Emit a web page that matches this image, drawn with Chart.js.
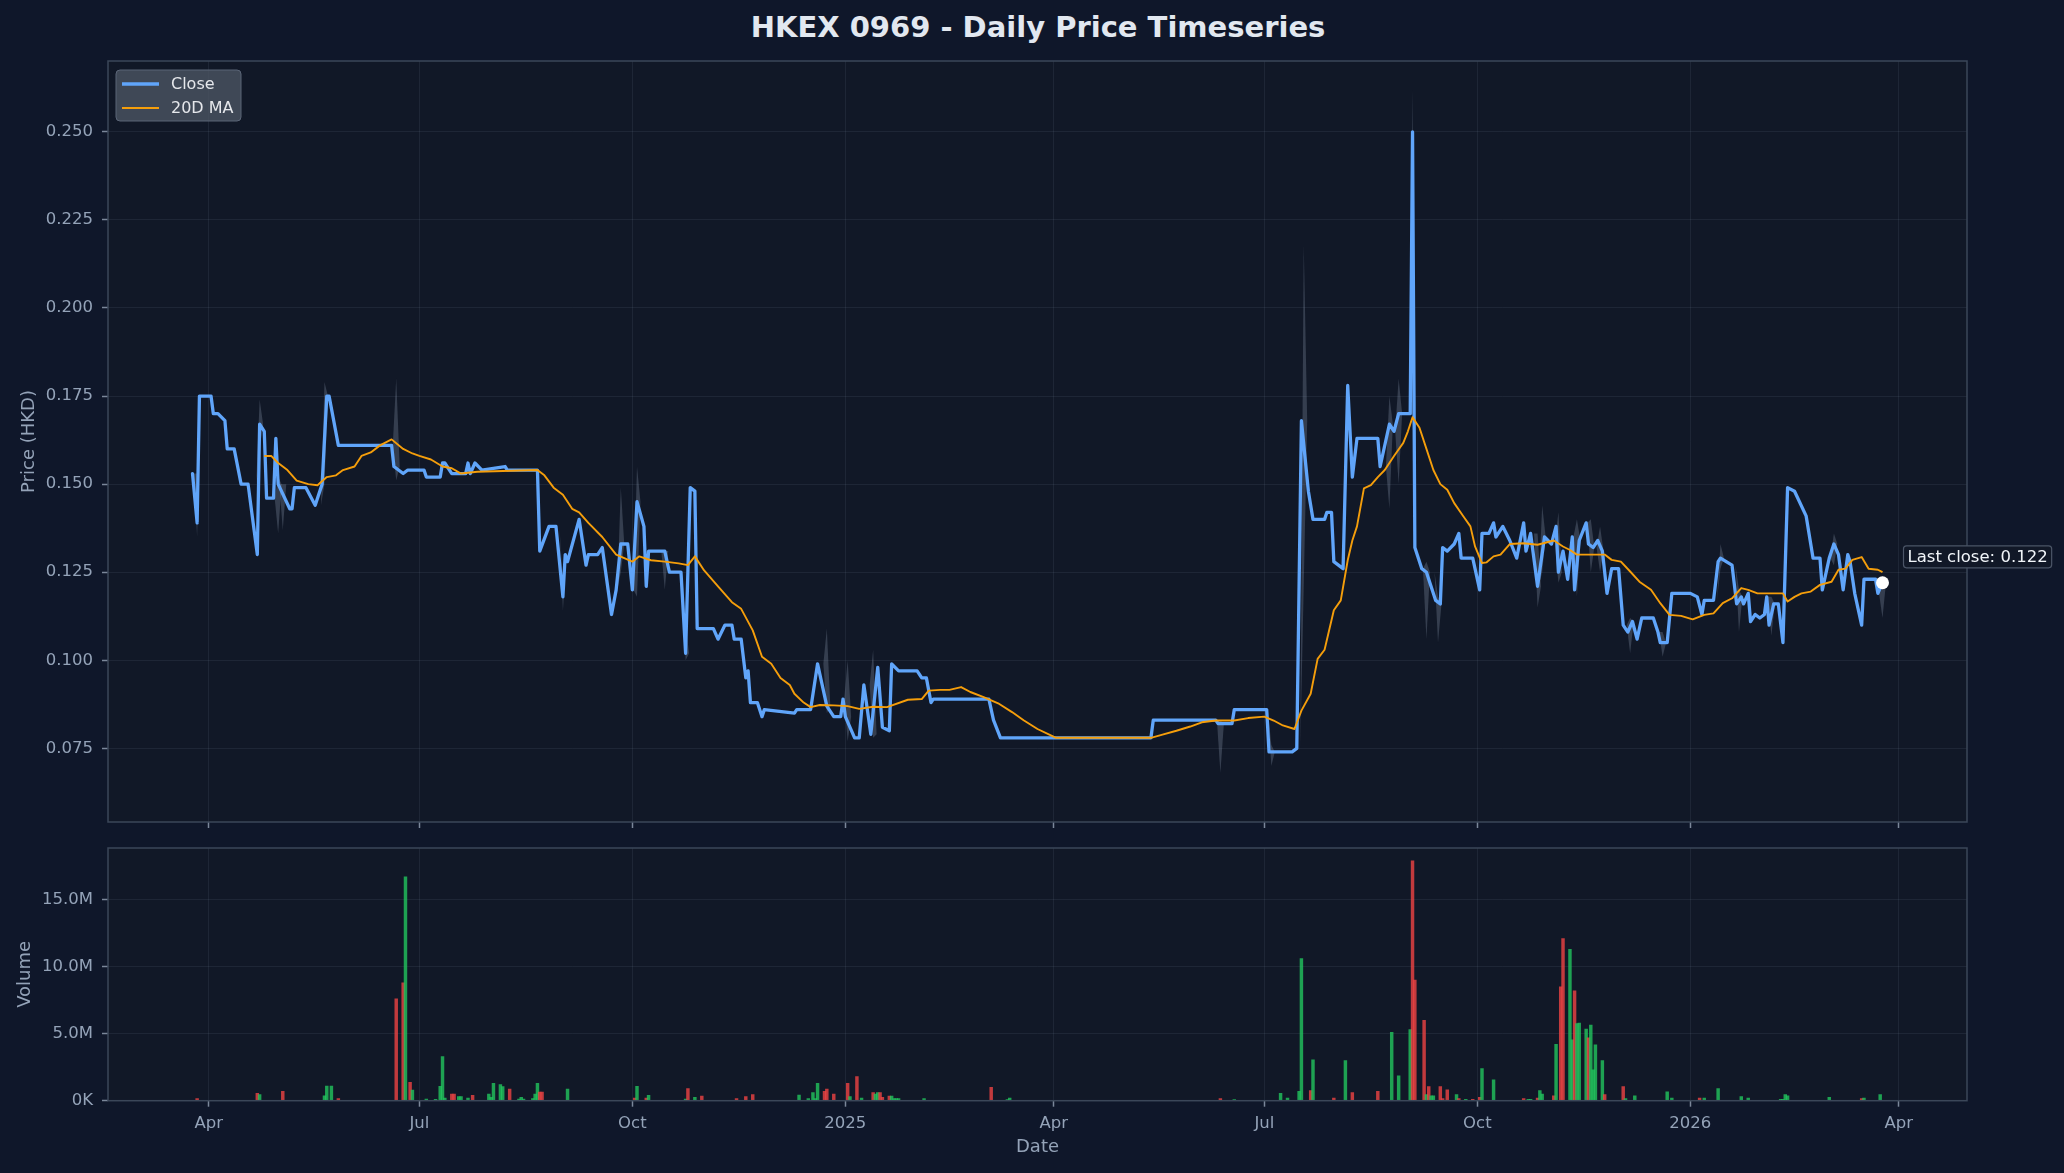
<!DOCTYPE html>
<html lang="en">
<head>
<meta charset="UTF-8">
<title>HKEX 0969 - Daily Price Timeseries</title>
<script src="https://cdn.jsdelivr.net/npm/chart.js"></script>
<style>
  body { margin: 0; background: #0f172a; }
  #wrap { position: relative; width: 2064px; height: 1173px; font-family: 'DejaVu Sans', sans-serif; }
  #title { position: absolute; left: 6px; top: 9px; width: 2064px; text-align: center; color: #e2e8f0;
           font-weight: bold; font-size: 29px; line-height: 36px; }
  canvas { position: absolute; left: 0; }
</style>
</head>
<body>
<div id="wrap">
  <div id="title">HKEX 0969 - Daily Price Timeseries</div>
  <canvas id="priceChart" width="2064" height="844" style="top:0"></canvas>
  <canvas id="volumeChart" width="2064" height="351" style="top:822px"></canvas>
</div>
<script>
// values
const closeDates = [
  '2024-03-25','2024-03-27','2024-03-28','2024-04-02','2024-04-03','2024-04-05','2024-04-08','2024-04-09','2024-04-12','2024-04-15',
  '2024-04-18','2024-04-22','2024-04-23','2024-04-25','2024-04-26','2024-04-29','2024-04-30','2024-05-01','2024-05-06','2024-05-07',
  '2024-05-08','2024-05-13','2024-05-17','2024-05-20','2024-05-22','2024-05-23','2024-05-27','2024-06-19','2024-06-20','2024-06-24',
  '2024-06-26','2024-07-03','2024-07-04','2024-07-10','2024-07-11','2024-07-12','2024-07-15','2024-07-21','2024-07-22','2024-07-23',
  '2024-07-25','2024-07-28','2024-08-07','2024-08-08','2024-08-21','2024-08-22','2024-08-26','2024-08-29','2024-09-01','2024-09-02',
  '2024-09-03','2024-09-08','2024-09-11','2024-09-12','2024-09-16','2024-09-18','2024-09-22','2024-09-24','2024-09-26','2024-09-29',
  '2024-10-01','2024-10-03','2024-10-06','2024-10-07','2024-10-08','2024-10-15','2024-10-17','2024-10-22','2024-10-24','2024-10-26',
  '2024-10-28','2024-10-29','2024-11-05','2024-11-07','2024-11-10','2024-11-13','2024-11-14','2024-11-17','2024-11-19','2024-11-20',
  '2024-11-21','2024-11-24','2024-11-26','2024-11-27','2024-12-10','2024-12-11','2024-12-17','2024-12-20','2024-12-24','2024-12-27',
  '2024-12-30','2024-12-31','2025-01-01','2025-01-05','2025-01-07','2025-01-09','2025-01-12','2025-01-15','2025-01-17','2025-01-20',
  '2025-01-21','2025-01-24','2025-02-01','2025-02-03','2025-02-05','2025-02-07','2025-02-08','2025-03-04','2025-03-06','2025-03-09',
  '2025-05-13','2025-05-14','2025-06-10','2025-06-11','2025-06-17','2025-06-18','2025-07-02','2025-07-03','2025-07-13','2025-07-15',
  '2025-07-17','2025-07-20','2025-07-22','2025-07-27','2025-07-28','2025-07-30','2025-07-31','2025-08-04','2025-08-06','2025-08-08',
  '2025-08-10','2025-08-19','2025-08-20','2025-08-24','2025-08-26','2025-08-28','2025-09-02','2025-09-03','2025-09-04','2025-09-07',
  '2025-09-09','2025-09-13','2025-09-15','2025-09-16','2025-09-18','2025-09-21','2025-09-23','2025-09-24','2025-09-29','2025-10-02',
  '2025-10-03','2025-10-06','2025-10-08','2025-10-09','2025-10-12','2025-10-15','2025-10-18','2025-10-21','2025-10-22','2025-10-24',
  '2025-10-27','2025-10-30','2025-11-02','2025-11-04','2025-11-05','2025-11-07','2025-11-09','2025-11-11','2025-11-12','2025-11-14',
  '2025-11-17','2025-11-18','2025-11-20','2025-11-22','2025-11-24','2025-11-26','2025-11-28','2025-12-01','2025-12-03','2025-12-05',
  '2025-12-07','2025-12-09','2025-12-11','2025-12-16','2025-12-18','2025-12-19','2025-12-22','2025-12-24','2026-01-01','2026-01-04',
  '2026-01-06','2026-01-07','2026-01-11','2026-01-13','2026-01-14','2026-01-19','2026-01-21','2026-01-23','2026-01-24','2026-01-26',
  '2026-01-27','2026-01-29','2026-01-31','2026-02-02','2026-02-03','2026-02-04','2026-02-06','2026-02-08','2026-02-10','2026-02-12',
  '2026-02-15','2026-02-20','2026-02-23','2026-02-26','2026-02-27','2026-03-02','2026-03-04','2026-03-06','2026-03-07','2026-03-08',
  '2026-03-10','2026-03-11','2026-03-13','2026-03-16','2026-03-17','2026-03-22','2026-03-23','2026-03-25'
];
const closeValues = [
  0.153,0.139,0.175,0.175,0.170,0.170,0.168,0.160,0.160,0.150,
  0.150,0.130,0.167,0.165,0.146,0.146,0.163,0.150,0.143,0.143,
  0.149,0.149,0.144,0.150,0.175,0.175,0.161,0.161,0.155,0.153,
  0.154,0.154,0.152,0.152,0.156,0.156,0.153,0.153,0.156,0.153,
  0.156,0.154,0.155,0.154,0.154,0.131,0.138,0.138,0.118,0.130,
  0.128,0.140,0.127,0.130,0.130,0.132,0.113,0.120,0.133,0.133,
  0.120,0.145,0.138,0.121,0.131,0.131,0.125,0.125,0.102,0.149,
  0.148,0.109,0.109,0.106,0.110,0.110,0.106,0.106,0.095,0.097,
  0.088,0.088,0.084,0.086,0.085,0.086,0.086,0.099,0.087,0.084,
  0.084,0.089,0.084,0.078,0.078,0.093,0.079,0.098,0.081,0.080,
  0.099,0.097,0.097,0.095,0.095,0.088,0.089,0.089,0.083,0.078,
  0.078,0.083,0.083,0.082,0.082,0.086,0.086,0.074,0.074,0.075,
  0.168,0.148,0.140,0.140,0.142,0.142,0.128,0.126,0.178,0.152,
  0.163,0.163,0.155,0.167,0.165,0.170,0.170,0.250,0.132,0.126,
  0.125,0.117,0.116,0.132,0.131,0.133,0.136,0.129,0.129,0.120,
  0.136,0.136,0.139,0.135,0.138,0.134,0.129,0.139,0.131,0.136,
  0.121,0.135,0.133,0.138,0.125,0.131,0.123,0.135,0.120,0.134,
  0.139,0.133,0.132,0.134,0.131,0.119,0.126,0.126,0.110,0.108,
  0.111,0.106,0.112,0.112,0.108,0.105,0.105,0.119,0.119,0.118,
  0.113,0.117,0.117,0.128,0.129,0.127,0.116,0.118,0.116,0.119,
  0.111,0.113,0.112,0.113,0.118,0.110,0.116,0.116,0.105,0.149,
  0.148,0.141,0.129,0.129,0.120,0.129,0.133,0.130,0.125,0.120,
  0.130,0.128,0.119,0.110,0.123,0.123,0.119,0.122
];

const maDates = [
  '2024-04-25','2024-04-28','2024-05-01','2024-05-05','2024-05-09','2024-05-14','2024-05-18','2024-05-22','2024-05-26','2024-05-29',
  '2024-06-03','2024-06-06','2024-06-10','2024-06-14','2024-06-19','2024-06-24','2024-06-28','2024-07-01','2024-07-06','2024-07-11',
  '2024-07-15','2024-07-19','2024-07-26','2024-08-21','2024-08-24','2024-08-28','2024-09-01','2024-09-05','2024-09-08','2024-09-12',
  '2024-09-18','2024-09-24','2024-10-01','2024-10-04','2024-10-09','2024-10-15','2024-10-21','2024-10-25','2024-10-28','2024-11-01',
  '2024-11-07','2024-11-13','2024-11-17','2024-11-22','2024-11-26','2024-11-30','2024-12-04','2024-12-08','2024-12-10','2024-12-14',
  '2024-12-17','2024-12-21','2024-12-27','2025-01-02','2025-01-07','2025-01-13','2025-01-19','2025-01-28','2025-02-03','2025-02-06',
  '2025-02-11','2025-02-15','2025-02-20','2025-02-24','2025-03-02','2025-03-08','2025-03-14','2025-03-19','2025-03-25','2025-03-31',
  '2025-04-02','2025-05-13','2025-05-18','2025-05-24','2025-05-30','2025-06-04','2025-06-10','2025-06-18','2025-06-24','2025-07-01',
  '2025-07-05','2025-07-09','2025-07-14','2025-07-17','2025-07-21','2025-07-24','2025-07-27','2025-07-31','2025-08-03','2025-08-06',
  '2025-08-08','2025-08-10','2025-08-13','2025-08-16','2025-08-19','2025-08-22','2025-08-26','2025-08-30','2025-09-01','2025-09-03',
  '2025-09-06','2025-09-09','2025-09-12','2025-09-15','2025-09-18','2025-09-21','2025-09-25','2025-09-28','2025-09-30','2025-10-03',
  '2025-10-05','2025-10-08','2025-10-11','2025-10-15','2025-10-21','2025-10-27','2025-11-03','2025-11-07','2025-11-10','2025-11-13',
  '2025-11-19','2025-11-25','2025-11-28','2025-12-02','2025-12-06','2025-12-10','2025-12-15','2025-12-19','2025-12-23','2025-12-28',
  '2026-01-02','2026-01-07','2026-01-11','2026-01-15','2026-01-19','2026-01-23','2026-01-26','2026-01-30','2026-02-10','2026-02-12',
  '2026-02-15','2026-02-18','2026-02-22','2026-02-26','2026-03-03','2026-03-06','2026-03-09','2026-03-12','2026-03-16','2026-03-19',
  '2026-03-23','2026-03-25'
];
const maValues = [
  0.158,0.158,0.156,0.154,0.151,0.150,0.1497,0.152,0.1525,0.154,
  0.155,0.158,0.159,0.161,0.1627,0.160,0.1587,0.158,0.157,0.155,
  0.1545,0.153,0.1535,0.154,0.1525,0.149,0.147,0.143,0.142,0.139,
  0.135,0.130,0.128,0.1295,0.1284,0.128,0.1275,0.127,0.1295,0.1255,
  0.121,0.1165,0.1146,0.1085,0.101,0.099,0.095,0.093,0.0905,0.088,
  0.0867,0.0873,0.0872,0.087,0.0862,0.0868,0.0867,0.0888,0.089,0.0914,
  0.0916,0.0916,0.0924,0.091,0.0895,0.0878,0.0853,0.083,0.0805,0.0786,
  0.078,0.078,0.0789,0.080,0.0812,0.0824,0.0829,0.0829,0.0836,0.084,
  0.0829,0.0815,0.0805,0.0857,0.0905,0.1004,0.103,0.1142,0.117,0.1284,
  0.134,0.138,0.1488,0.1497,0.152,0.154,0.158,0.1617,0.165,0.169,
  0.166,0.160,0.154,0.150,0.1484,0.1446,0.1408,0.138,0.1323,0.1276,
  0.1278,0.1295,0.130,0.133,0.1332,0.1328,0.134,0.1323,0.1313,0.130,
  0.130,0.130,0.1285,0.128,0.1252,0.1223,0.120,0.1162,0.1129,0.1126,
  0.1116,0.1129,0.1133,0.1162,0.1176,0.1205,0.120,0.119,0.119,0.1167,
  0.118,0.119,0.1195,0.1214,0.1223,0.1257,0.126,0.1285,0.1293,0.126,
  0.1257,0.125
];

// daily volume in millions of shares, up = 1 for a green (up) day
const volDates = [
  '2024-03-27','2024-04-22','2024-04-23','2024-05-03','2024-05-21','2024-05-22','2024-05-24','2024-05-27','2024-06-21','2024-06-24',
  '2024-06-25','2024-06-27','2024-06-28','2024-07-04','2024-07-08','2024-07-10','2024-07-11','2024-07-12','2024-07-15','2024-07-16',
  '2024-07-18','2024-07-19','2024-07-22','2024-07-24','2024-07-31','2024-08-01','2024-08-02','2024-08-05','2024-08-06','2024-08-09',
  '2024-08-13','2024-08-14','2024-08-15','2024-08-19','2024-08-20','2024-08-21','2024-08-22','2024-08-23','2024-09-03','2024-10-02',
  '2024-10-03','2024-10-07','2024-10-08','2024-10-24','2024-10-25','2024-10-28','2024-10-31','2024-11-15','2024-11-19','2024-11-22',
  '2024-12-12','2024-12-16','2024-12-18','2024-12-19','2024-12-20','2024-12-23','2024-12-24','2024-12-27','2025-01-02','2025-01-03',
  '2025-01-06','2025-01-08','2025-01-13','2025-01-14','2025-01-15','2025-01-16','2025-01-17','2025-01-20','2025-01-21','2025-01-22',
  '2025-01-23','2025-01-24','2025-02-04','2025-03-05','2025-03-12','2025-03-13','2025-06-12','2025-06-18','2025-07-08','2025-07-11',
  '2025-07-16','2025-07-17','2025-07-21','2025-07-22','2025-07-31','2025-08-05','2025-08-08','2025-08-19','2025-08-25','2025-08-28',
  '2025-09-02','2025-09-03','2025-09-04','2025-09-08','2025-09-09','2025-09-10','2025-09-11','2025-09-12','2025-09-15','2025-09-16',
  '2025-09-18','2025-09-22','2025-09-23','2025-09-26','2025-09-29','2025-10-02','2025-10-03','2025-10-08','2025-10-21','2025-10-23',
  '2025-10-24','2025-10-27','2025-10-28','2025-10-29','2025-11-03','2025-11-04','2025-11-06','2025-11-07','2025-11-10','2025-11-11',
  '2025-11-12','2025-11-13','2025-11-14','2025-11-17','2025-11-18','2025-11-19','2025-11-20','2025-11-21','2025-11-24','2025-11-25',
  '2025-12-03','2025-12-04','2025-12-08','2025-12-22','2025-12-24','2026-01-05','2026-01-07','2026-01-13','2026-01-23','2026-01-26',
  '2026-02-09','2026-02-10','2026-02-11','2026-02-12','2026-03-02','2026-03-16','2026-03-17','2026-03-24'
];
const volValues = [
  0.15,0.55,0.45,0.7,0.37,1.1,1.1,0.15,7.6,8.8,
  16.7,1.37,0.8,0.12,0.1,1.07,3.3,0.2,0.5,0.5,
  0.3,0.3,0.2,0.4,0.5,0.25,1.3,1.2,1.05,0.87,
  0.12,0.25,0.12,0.15,0.5,1.3,0.65,0.65,0.87,0.2,
  1.07,0.2,0.4,0.12,0.9,0.25,0.35,0.15,0.3,0.45,
  0.42,0.15,0.6,0.15,1.3,0.7,0.87,0.5,1.3,0.3,
  1.8,0.2,0.6,0.5,0.6,0.6,0.25,0.35,0.35,0.15,
  0.15,0.15,0.15,1.0,0.08,0.2,0.15,0.08,0.55,0.2,
  0.7,10.6,0.75,3.05,0.2,3.0,0.6,0.7,5.1,1.86,
  5.3,17.9,9.0,6.0,0.45,1.05,0.37,0.37,1.05,0.15,
  0.82,0.45,0.15,0.1,0.1,0.25,2.4,1.56,0.15,0.1,
  0.1,0.2,0.75,0.5,0.37,4.2,8.5,12.1,11.3,4.55,
  8.2,5.75,5.8,5.35,4.7,5.65,2.3,4.17,3.0,0.45,
  1.05,0.15,0.37,0.67,0.2,0.2,0.2,0.9,0.3,0.2,
  0.1,0.1,0.45,0.37,0.25,0.15,0.2,0.45
];
const volUp = [
  0,0,1,0,1,1,1,0,0,0,
  1,0,1,1,1,1,1,1,0,0,
  1,1,1,0,1,1,1,1,1,0,
  1,1,1,1,1,1,0,0,1,0,
  1,0,1,1,0,1,0,0,0,0,
  1,1,1,1,1,0,0,0,0,1,
  0,1,0,1,1,0,0,0,1,1,
  1,1,1,0,1,1,0,1,1,1,
  1,1,0,1,0,1,0,0,1,1,
  1,0,0,0,1,0,1,1,0,0,
  0,1,0,1,0,0,1,1,0,1,
  1,0,1,1,0,1,0,0,1,1,
  0,1,1,1,0,1,1,1,1,0,
  0,1,1,1,1,0,1,1,1,1,
  1,1,1,1,1,0,1,1
];

// daily high/low range where it sticks out from the close line
const bandDates = [
  '2024-03-27','2024-04-23','2024-05-01','2024-05-03','2024-05-21','2024-06-21','2024-09-01','2024-09-26','2024-10-03','2024-10-15',
  '2024-10-24','2024-12-24','2025-01-02','2025-01-13','2025-06-12','2025-07-04','2025-07-18','2025-08-24','2025-08-28','2025-09-03',
  '2025-09-09','2025-09-14','2025-10-27','2025-10-29','2025-11-05','2025-11-13','2025-11-19','2025-11-23','2025-12-06','2025-12-20',
  '2026-01-14','2026-01-22','2026-02-05','2026-03-04','2026-03-25'
];
const bandLow = [
  0.135,0.160,0.136,0.137,0.150,0.151,0.114,0.125,0.118,0.120,
  0.100,0.085,0.077,0.078,0.068,0.070,0.121,0.143,0.150,0.170,
  0.106,0.105,0.115,0.125,0.122,0.118,0.125,0.125,0.102,0.101,
  0.126,0.108,0.107,0.127,0.112
];
const bandHigh = [
  0.153,0.174,0.152,0.150,0.179,0.180,0.122,0.149,0.155,0.131,
  0.110,0.109,0.100,0.103,0.083,0.076,0.218,0.175,0.180,0.262,
  0.128,0.118,0.136,0.144,0.142,0.140,0.140,0.138,0.112,0.108,
  0.133,0.120,0.118,0.136,0.124
];

const xTickDates = ['2024-04-01','2024-07-01','2024-10-01','2025-01-01','2025-04-01','2025-07-01','2025-10-01','2026-01-01','2026-04-01'];
const xTickLabels = ['Apr','Jul','Oct','2025','Apr','Jul','Oct','2026','Apr'];
const priceTicks = [0.075,0.100,0.125,0.150,0.175,0.200,0.225,0.250];
const priceTickLabels = ['0.075','0.100','0.125','0.150','0.175','0.200','0.225','0.250'];
const volTicks = [0,5,10,15];
const volTickLabels = ['0K','5.0M','10.0M','15.0M'];

const dayNum = s => Date.UTC(+s.slice(0, 4), +s.slice(5, 7) - 1, +s.slice(8, 10)) / 86400000;

const firstDay = dayNum(closeDates[0]);
const lastDay = dayNum(closeDates[closeDates.length - 1]);
const xPad = (lastDay - firstDay) * 0.05;
const lastClose = closeValues[closeValues.length - 1];

const GRID = 'rgba(148,163,184,0.10)';
const TICK = '#7b879a';
const TEXT = '#94a3b8';

Chart.defaults.font.family = "'DejaVu Sans', sans-serif";
Chart.defaults.font.size = 16.5;
Chart.defaults.color = TEXT;

function closeBefore(day) {
  let v = closeValues[0];
  closeDates.forEach((d, i) => { if (dayNum(d) <= day) v = closeValues[i]; });
  return v;
}

const bandSets = bandDates.map((d, i) => {
  const t = dayNum(d);
  return {
    label: 'range',
    data: [
      {x: t - 1.5, y: closeBefore(t - 1.5)}, {x: t, y: bandHigh[i]},
      {x: t + 1.5, y: closeBefore(t + 1.5)}, {x: t, y: bandLow[i]},
      {x: t - 1.5, y: closeBefore(t - 1.5)}
    ],
    borderWidth: 0, pointRadius: 0, fill: 'shape',
    backgroundColor: 'rgba(148,163,184,0.28)', order: 3
  };
});

function xAxis(showLabels) {
  return {
    type: 'linear', min: firstDay - xPad, max: lastDay + xPad, offset: false,
    afterBuildTicks: s => { s.ticks = xTickDates.map(d => ({value: dayNum(d)})); },
    afterFit: s => { s.height = showLabels ? 72.3 : 22; },
    grid: {color: GRID, tickColor: TICK, tickLength: 6, tickWidth: 1.5, offset: false},
    border: {display: false},
    ticks: {display: showLabels, autoSkip: false, maxRotation: 0, padding: 7, color: TEXT,
            callback: (v, i) => xTickLabels[i]},
    title: showLabels ? {display: true, text: 'Date', color: TEXT, font: {size: 18}, padding: {top: 0, bottom: 15}}
                      : {display: false}
  };
}

const framePlugin = {
  id: 'frame',
  beforeDraw(chart) {
    const {ctx, chartArea: a} = chart;
    ctx.save();
    ctx.fillStyle = '#111827';
    ctx.fillRect(a.left, a.top, a.width, a.height);
    ctx.restore();
  },
  afterDatasetsDraw(chart) {
    const {ctx, chartArea: a} = chart;
    ctx.save();
    ctx.strokeStyle = '#3b4759';
    ctx.lineWidth = 1.5;
    ctx.strokeRect(a.left, a.top, a.width, a.height);
    ctx.restore();
  }
};

function roundRect(ctx, x, y, w, h, r) {
  ctx.beginPath();
  ctx.moveTo(x + r, y);
  ctx.arcTo(x + w, y, x + w, y + h, r);
  ctx.arcTo(x + w, y + h, x, y + h, r);
  ctx.arcTo(x, y + h, x, y, r);
  ctx.arcTo(x, y, x + w, y, r);
  ctx.closePath();
}

const legendPlugin = {
  id: 'boxLegend',
  afterDraw(chart) {
    const {ctx, chartArea: a} = chart;
    const x = a.left + 8, y = a.top + 9;
    ctx.save();
    roundRect(ctx, x, y, 125, 51, 4);
    ctx.fillStyle = 'rgba(75,85,99,0.8)';
    ctx.fill();
    ctx.strokeStyle = '#5b6577';
    ctx.lineWidth = 1;
    ctx.stroke();
    ctx.font = "16px 'DejaVu Sans'";
    ctx.textBaseline = 'middle';
    [0, 1].forEach(k => {
      const ds = chart.data.datasets[k];
      const ly = y + 14 + k * 24;
      ctx.strokeStyle = ds.borderColor;
      ctx.lineWidth = ds.borderWidth;
      ctx.beginPath();
      ctx.moveTo(x + 6, ly);
      ctx.lineTo(x + 43, ly);
      ctx.stroke();
      ctx.fillStyle = '#e5e7eb';
      ctx.fillText(ds.label, x + 55, ly + 1);
    });
    ctx.restore();
  }
};

const lastClosePlugin = {
  id: 'lastClose',
  afterDatasetsDraw(chart) {
    const {ctx, scales} = chart;
    const px = scales.x.getPixelForValue(lastDay);
    const py = scales.y.getPixelForValue(lastClose);
    const text = 'Last close: ' + lastClose.toFixed(3);
    ctx.save();
    ctx.font = "16.5px 'DejaVu Sans'";
    const w = ctx.measureText(text).width;
    const tx = px + 25, ty = py - 26;
    roundRect(ctx, tx - 4, ty - 11, w + 8, 22, 3);
    ctx.fillStyle = '#111827';
    ctx.fill();
    ctx.strokeStyle = '#4b5567';
    ctx.lineWidth = 1.2;
    ctx.stroke();
    ctx.fillStyle = '#f1f5f9';
    ctx.textBaseline = 'middle';
    ctx.fillText(text, tx, ty + 1);
    ctx.restore();
  }
};

new Chart(document.getElementById('priceChart'), {
  type: 'line',
  data: {
    datasets: [
      {
        label: 'Close',
        data: closeDates.map((d, i) => ({x: dayNum(d), y: closeValues[i]})),
        borderColor: '#60a5fa', borderWidth: 3.3, pointRadius: 0, tension: 0,
        borderJoinStyle: 'round', borderCapStyle: 'round', order: 1
      },
      {
        label: '20D MA',
        data: maDates.map((d, i) => ({x: dayNum(d), y: maValues[i]})),
        borderColor: '#f59e0b', borderWidth: 1.9, pointRadius: 0, tension: 0,
        borderJoinStyle: 'round', order: 0
      },
      {
        label: 'Last close',
        data: [{x: lastDay, y: lastClose}],
        showLine: false, pointRadius: 6.5, pointBackgroundColor: '#ffffff', pointBorderWidth: 0, order: -1
      },
      ...bandSets
    ]
  },
  options: {
    responsive: false, animation: false, devicePixelRatio: 1,
    layout: {padding: {top: 61, right: 97, left: 0, bottom: 0}},
    plugins: {legend: {display: false}, tooltip: {enabled: false}},
    scales: {
      x: xAxis(false),
      y: {
        min: 0.0541, max: 0.2701,
        afterBuildTicks: s => { s.ticks = priceTicks.map(v => ({value: v})); },
        afterFit: s => { s.width = 108; },
        grid: {color: GRID, tickColor: TICK, tickLength: 6, tickWidth: 1.5},
        border: {display: false},
        ticks: {padding: 9, color: TEXT, callback: (v, i) => priceTickLabels[i]},
        title: {display: true, text: 'Price (HKD)', color: TEXT, font: {size: 18}, padding: {top: 19, bottom: 0}}
      }
    }
  },
  plugins: [framePlugin, legendPlugin, lastClosePlugin]
});

new Chart(document.getElementById('volumeChart'), {
  type: 'bar',
  data: {
    datasets: [{
      label: 'Volume',
      data: volDates.map((d, i) => ({x: dayNum(d), y: volValues[i]})),
      backgroundColor: volUp.map(u => u ? 'rgba(34,197,94,0.8)' : 'rgba(239,68,68,0.8)'),
      barThickness: 2.8, borderWidth: 0, grouped: false
    }]
  },
  options: {
    responsive: false, animation: false, devicePixelRatio: 1,
    layout: {padding: {top: 26, right: 97, left: 0, bottom: 0}},
    plugins: {legend: {display: false}, tooltip: {enabled: false}},
    scales: {
      x: xAxis(true),
      y: {
        min: 0, max: 18.86,
        afterBuildTicks: s => { s.ticks = volTicks.map(v => ({value: v})); },
        afterFit: s => { s.width = 108; },
        grid: {color: GRID, tickColor: TICK, tickLength: 6, tickWidth: 1.5},
        border: {display: false},
        ticks: {padding: 9, color: TEXT, callback: (v, i) => volTickLabels[i]},
        title: {display: true, text: 'Volume', color: TEXT, font: {size: 18}, padding: {top: 14.5, bottom: 0}}
      }
    }
  },
  plugins: [framePlugin]
});
</script>
</body>
</html>
